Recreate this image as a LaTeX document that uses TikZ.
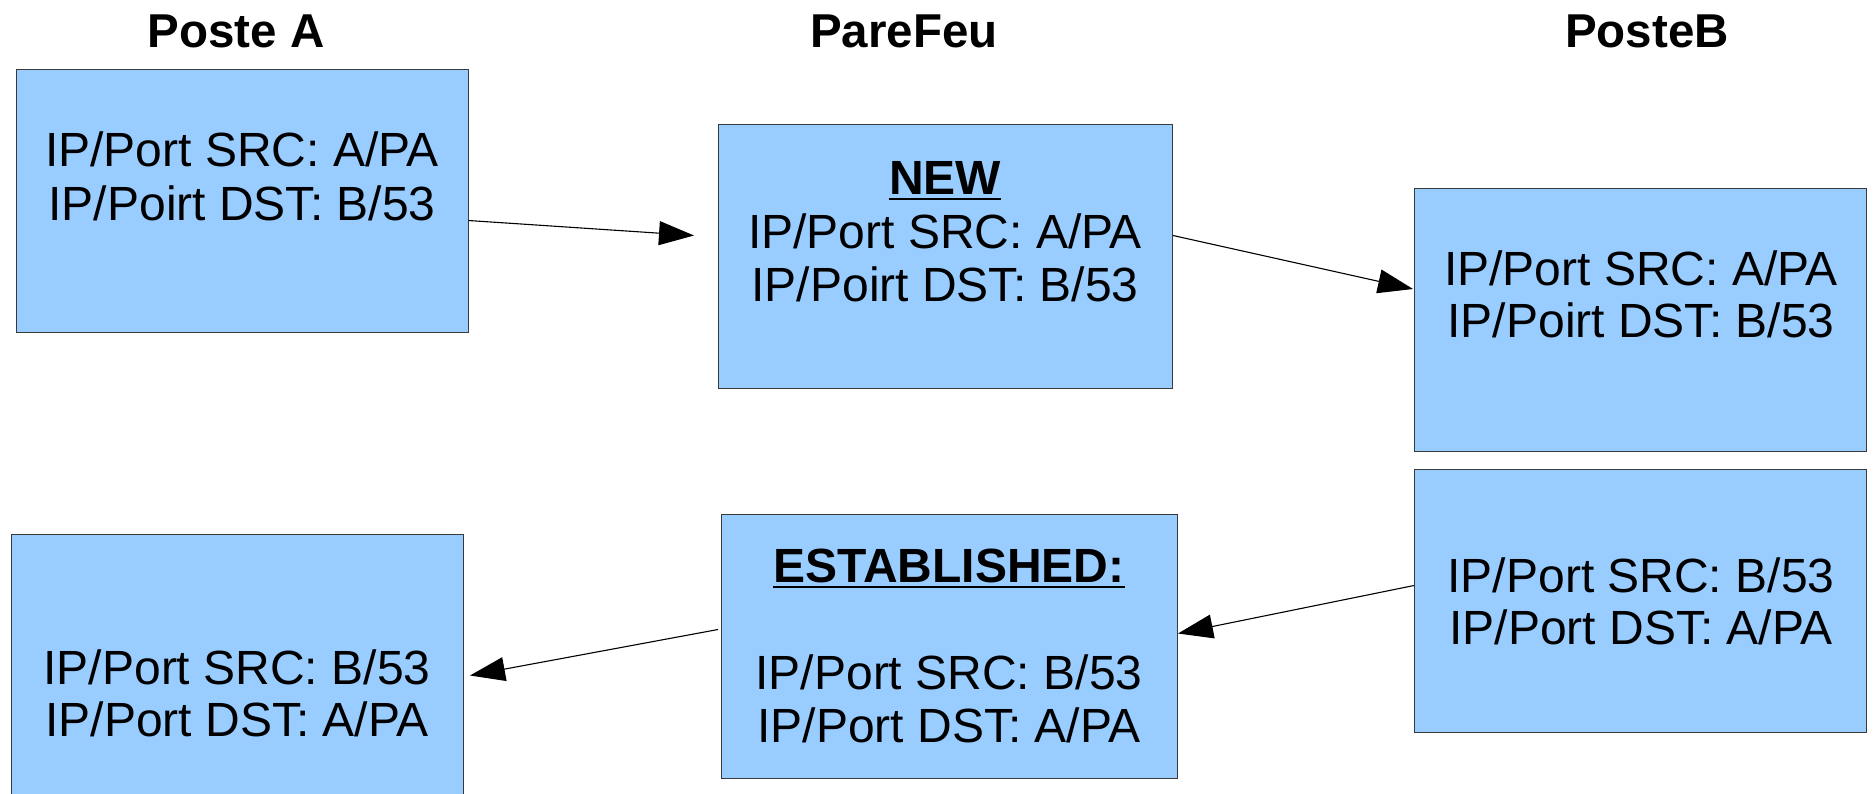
\documentclass[tikz,border=0pt]{standalone}
\usepackage{fontspec}
\setmainfont{Liberation Sans}
\usetikzlibrary{arrows.meta}
\definecolor{boxblue}{HTML}{99CCFF}
\definecolor{boxedge}{HTML}{3A3A3A}

\begin{document}
\begin{tikzpicture}[x=1pt,y=-1pt,
  box/.style={draw=boxedge,fill=boxblue,line width=1pt,rectangle,inner sep=0pt,
              anchor=north west,minimum width=452pt,minimum height=263pt},
  txt/.style={font=\fontsize{48}{54}\selectfont,anchor=base,inner sep=0pt},
  ttl/.style={font=\fontsize{47.5}{54}\selectfont\bfseries,anchor=base,inner sep=0pt},
  uline/.style={line width=2.6pt},
  flow/.style={line width=1.1pt,-{Triangle[length=35pt,width=24pt]}}]
\useasboundingbox (0,0) rectangle (1873,793);

% column titles
\node[ttl] (tA) at (236,47) {Poste A};
\node[ttl] (tF) at (904,47) {PareFeu};
\node[ttl] (tB) at (1647,47) {PosteB};

% boxes
\node[box] (a1) at (15.5,69) {};
\node[box,minimum width=454pt,minimum height=264pt] (f1) at (718,124) {};
\node[box] (b1) at (1414,187.5) {};
\node[box] (b2) at (1414,469) {};
\node[box,minimum width=456pt,minimum height=264pt] (f2) at (721,514) {};
\node[box,minimum height=280pt] (a2) at (11,534) {};

% texts of the outgoing packet
\node[txt] (a1l1) at (242,166) {IP/Port SRC: A/PA};
\node[txt] (a1l2) at (242,220) {IP/Poirt DST: B/53};

\node[txt,font=\fontsize{48}{54}\selectfont\bfseries] (fnew) at (945,194) {NEW};
\draw[uline] ([yshift=-5pt]fnew.base west) -- ([yshift=-5pt]fnew.base east);
\node[txt] (f1l1) at (945,248) {IP/Port SRC: A/PA};
\node[txt] (f1l2) at (945,301) {IP/Poirt DST: B/53};

\node[txt] (b1l1) at (1641,285) {IP/Port SRC: A/PA};
\node[txt] (b1l2) at (1641,337) {IP/Poirt DST: B/53};

% texts of the reply
\node[txt] (b2l1) at (1641,592) {IP/Port SRC: B/53};
\node[txt] (b2l2) at (1641,644) {IP/Port DST: A/PA};

\node[txt,font=\fontsize{48}{54}\selectfont\bfseries] (fest) at (949,582) {ESTABLISHED:};
\draw[uline] ([yshift=-5pt]fest.base west) -- ([yshift=-5pt]fest.base east);
\node[txt] (f2l1) at (949,689) {IP/Port SRC: B/53};
\node[txt] (f2l2) at (949,742) {IP/Port DST: A/PA};

\node[txt] (a2l1) at (237,684) {IP/Port SRC: B/53};
\node[txt] (a2l2) at (237,736) {IP/Port DST: A/PA};

% packet flow
\draw[flow] ([yshift=-19.5pt]a1.east) -- ([xshift=-24pt,yshift=21pt]f1.west);
\draw[flow] ([yshift=21pt]f1.east) -- ([xshift=-1pt,yshift=30.5pt]b1.west);
\draw[flow] ([yshift=15.5pt]b2.west) -- ([yshift=13pt]f2.east);
\draw[flow] ([xshift=-3pt,yshift=17pt]f2.west) -- ([xshift=6pt,yshift=-1pt]a2.east);
\end{tikzpicture}
\end{document}
